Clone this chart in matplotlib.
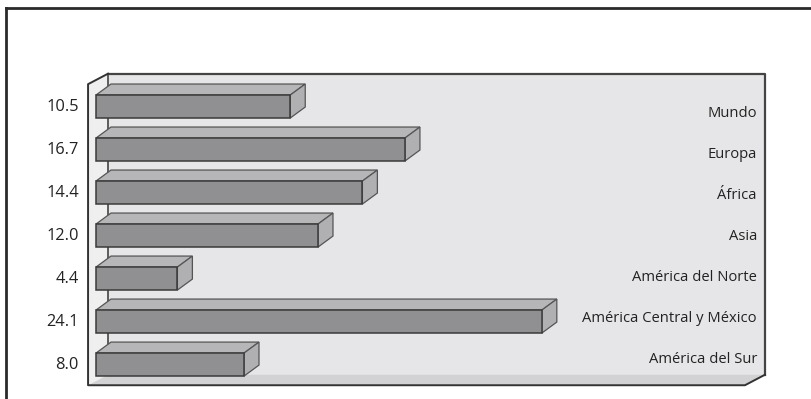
import matplotlib.pyplot as plt
from matplotlib.patches import Polygon

plt.rcParams['font.family'] = ['Open Sans', 'DejaVu Sans']

regions = ["Mundo", "Europa", "África", "Asia", "América del Norte",
           "América Central y México", "América del Sur"]
values = [10.5, 16.7, 14.4, 12.0, 4.4, 24.1, 8.0]
value_labels = ["10.5", "16.7", "14.4", "12.0", "4.4", "24.1", "8.0"]

# colours
front_c = "#909092"
top_c = "#b6b6b8"
side_c = "#b0b0b2"
edge_c = "#3a3a3a"

fig = plt.figure(figsize=(8.11, 3.99), dpi=100)
ax = fig.add_axes([0, 0, 1, 1])
ax.set_xlim(-5.19, 38.65)
ax.set_ylim(6.80, -2.477)
ax.axis("off")

# box walls
wdx, wdy = 1.08, -0.244
x0, x1 = -0.43, 35.08
ytop, ybot = -0.52, 6.48
back = Polygon([(x0 + wdx, ytop + wdy), (x1 + wdx, ytop + wdy),
                (x1 + wdx, ybot + wdy), (x0 + wdx, ybot + wdy)],
               closed=True, fc="#e6e6e8", ec="none", zorder=1)
left = Polygon([(x0, ytop), (x0 + wdx, ytop + wdy), (x0 + wdx, ybot + wdy), (x0, ybot)],
               closed=True, fc="#efeff0", ec="none", zorder=1)
floor = Polygon([(x0, ybot), (x0 + wdx, ybot + wdy), (x1 + wdx, ybot + wdy), (x1, ybot)],
                closed=True, fc="#d2d2d4", ec="none", zorder=1)
for p in (back, left, floor):
    ax.add_patch(p)
ax.plot([x0 + wdx, x1 + wdx, x1 + wdx], [ytop + wdy, ytop + wdy, ybot + wdy],
        color="#444444", lw=1.6, zorder=2)
ax.plot([x0 + wdx, x0 + wdx], [ytop + wdy, ybot + wdy], color="#444444", lw=1.2, zorder=2)
ax.plot([x0 + wdx, x0, x0, x1, x1 + wdx], [ytop + wdy, ytop, ybot, ybot, ybot + wdy],
        color="#333333", lw=1.4, zorder=2)

# 3d bars
h = 0.535
bdx, bdy = 0.81, -0.256
for i, v in enumerate(values):
    yt, yb = i - h / 2, i + h / 2
    top = Polygon([(0, yt), (bdx, yt + bdy), (v + bdx, yt + bdy), (v, yt)],
                  closed=True, fc=top_c, ec="#555555", lw=0.9, zorder=3)
    side = Polygon([(v, yt), (v + bdx, yt + bdy), (v + bdx, yb + bdy), (v, yb)],
                   closed=True, fc=side_c, ec="#555555", lw=0.9, zorder=3)
    front = Polygon([(0, yt), (v, yt), (v, yb), (0, yb)],
                    closed=True, fc=front_c, ec=edge_c, lw=1.1, zorder=4)
    for p in (top, side, front):
        ax.add_patch(p)
    ax.text(-0.92, i, value_labels[i], ha="right", va="center", fontsize=11.8,
            color="#222222", zorder=5)
    ax.text(35.73, 0.151 + 0.9535 * i, regions[i], ha="right", va="center",
            fontsize=10.6, color="#222222", zorder=5)

# outer frame (top and left)
fig.add_artist(plt.Line2D([6 / 811, 1], [1 - 7.5 / 399] * 2, color="#2a2a2a", lw=2,
                          transform=fig.transFigure))
fig.add_artist(plt.Line2D([6 / 811] * 2, [0, 1 - 7.5 / 399], color="#2a2a2a", lw=2,
                          transform=fig.transFigure))

fig.savefig("out.png", dpi=100, facecolor="white")
